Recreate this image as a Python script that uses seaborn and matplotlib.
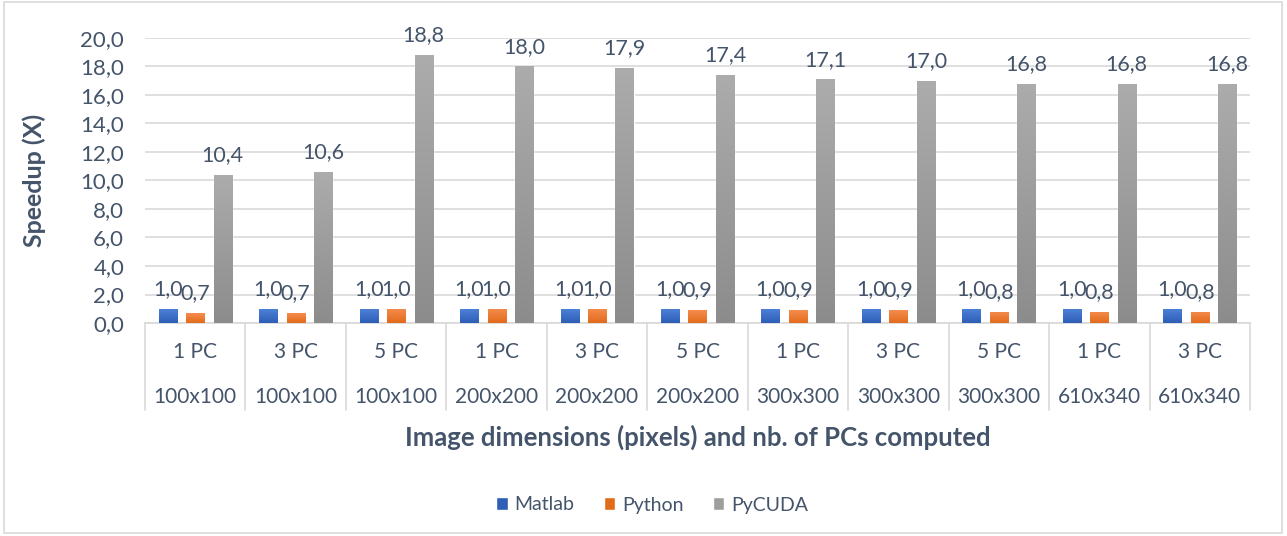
import numpy as np
import pandas as pd
import matplotlib
matplotlib.use("Agg")
import matplotlib.pyplot as plt
import seaborn as sns
from matplotlib.colors import LinearSegmentedColormap
from matplotlib.patches import Rectangle
import matplotlib.transforms as mtransforms

pcs = ["1 PC", "3 PC", "5 PC", "1 PC", "3 PC", "5 PC", "1 PC", "3 PC", "5 PC", "1 PC", "3 PC"]
dims = ["100x100", "100x100", "100x100", "200x200", "200x200", "200x200",
        "300x300", "300x300", "300x300", "610x340", "610x340"]
series = ["Matlab", "Python", "PyCUDA"]
matlab = [1.0, 1.0, 1.0, 1.0, 1.0, 1.0, 1.0, 1.0, 1.0, 1.0, 1.0]
python = [0.7, 0.7, 1.0, 1.0, 1.0, 0.9, 0.9, 0.9, 0.8, 0.8, 0.8]
pycuda = [10.4, 10.6, 18.8, 18.0, 17.9, 17.4, 17.1, 17.0, 16.8, 16.8, 16.8]
yticks = [0, 2, 4, 6, 8, 10, 12, 14, 16, 18, 20]

cats = [f"{p}|{d}|{i}" for i, (p, d) in enumerate(zip(pcs, dims))]
df = pd.DataFrame({
    "cat": cats * 3,
    "series": np.repeat(series, len(cats)),
    "value": matlab + python + pycuda,
})

sns.set_theme(style="white")
plt.rcParams["font.family"] = ["Lato", "DejaVu Sans"]
TXT = "#44546A"
GRID = "#D9D9D9"
colors = {"Matlab": "#4472C4", "Python": "#ED7D31", "PyCUDA": "#A5A5A5"}
grads = {"Matlab": ("#4F83DA", "#2E5EB5"),
         "Python": ("#F58D4E", "#E26B1C"),
         "PyCUDA": ("#ACACAC", "#8C8C8C")}

fig = plt.figure(figsize=(12.87, 5.36), dpi=100)
ax = fig.add_axes([145 / 1287, 213 / 536, 1105 / 1287, 285 / 536])

sns.barplot(data=df, x="cat", y="value", hue="series", palette=colors,
            width=0.82, gap=0.34, ax=ax, legend=False, zorder=3, saturation=1)

ax.set_ylim(0, 20)
ax.set_xlim(-0.5, len(cats) - 0.5)
ax.set_yticks(yticks)
ax.set_yticklabels([f"{v:.1f}".replace(".", ",") for v in yticks], fontsize=16, color=TXT)
ax.tick_params(axis="y", length=0, pad=15)
ax.set_xticks([])
ax.set_xlabel("")
ax.set_ylabel("Speedup (X)", fontsize=18, fontweight="bold", color=TXT)
ax.yaxis.set_label_coords(-0.09, 0.5)
ax.grid(axis="y", color=GRID, linewidth=1.2, zorder=0)
for s in ["top", "right", "left"]:
    ax.spines[s].set_visible(False)
ax.spines["bottom"].set_color(GRID)
ax.spines["bottom"].set_linewidth(1.2)

# gradients + labels
for cont, name in zip(ax.containers, series):
    cmap = LinearSegmentedColormap.from_list(name, [grads[name][1], grads[name][0]])
    for p in cont:
        x, w, h = p.get_x(), p.get_width(), p.get_height()
        grad = np.linspace(0, 1, 256).reshape(-1, 1)
        im = ax.imshow(grad, extent=[x, x + w, 0, h], origin="lower", aspect="auto",
                       cmap=cmap, zorder=3.5)
        im.set_clip_path(p)
    ax.bar_label(cont, labels=[f"{v:.1f}".replace(".", ",") for v in cont.datavalues],
                 padding=7, fontsize=15.5, color=TXT)
ax.set_xlim(-0.5, len(cats) - 0.5)
ax.set_ylim(0, 20)
ax.set_aspect("auto")

# multi-level category axis
trans = mtransforms.blended_transform_factory(ax.transData, ax.transAxes)
for b in np.arange(-0.5, len(cats), 1.0):
    ax.plot([b, b], [0, -0.305], transform=trans, color=GRID, lw=1.2, clip_on=False)
for i, (p, d) in enumerate(zip(pcs, dims)):
    ax.text(i, -0.102, p, transform=trans, ha="center", va="center", fontsize=15, color=TXT)
    ax.text(i, -0.26, d, transform=trans, ha="center", va="center", fontsize=15, color=TXT)
ax.text(0.5, -0.40, "Image dimensions (pixels) and nb. of PCs computed", transform=ax.transAxes,
        ha="center", va="center", fontsize=18.5, fontweight="bold", color=TXT)

handles = [Rectangle((0, 0), 1, 1) for s in series]
for h, s in zip(handles, series):
    h.set_facecolor(grads[s][1] if s != "PyCUDA" else "#9E9E9E")
fig.legend(handles, series, loc="center", bbox_to_anchor=(652 / 1287, 1 - 505 / 536), ncol=3,
           frameon=False, fontsize=14, labelcolor=TXT, handlelength=0.6, handleheight=0.6,
           handletextpad=0.35, columnspacing=1.5)

fig.patches.append(Rectangle((0.003, 0.006), 0.993, 0.99, transform=fig.transFigure,
                             fill=False, edgecolor=GRID, lw=1.2))

fig.savefig("out.png", dpi=100)
